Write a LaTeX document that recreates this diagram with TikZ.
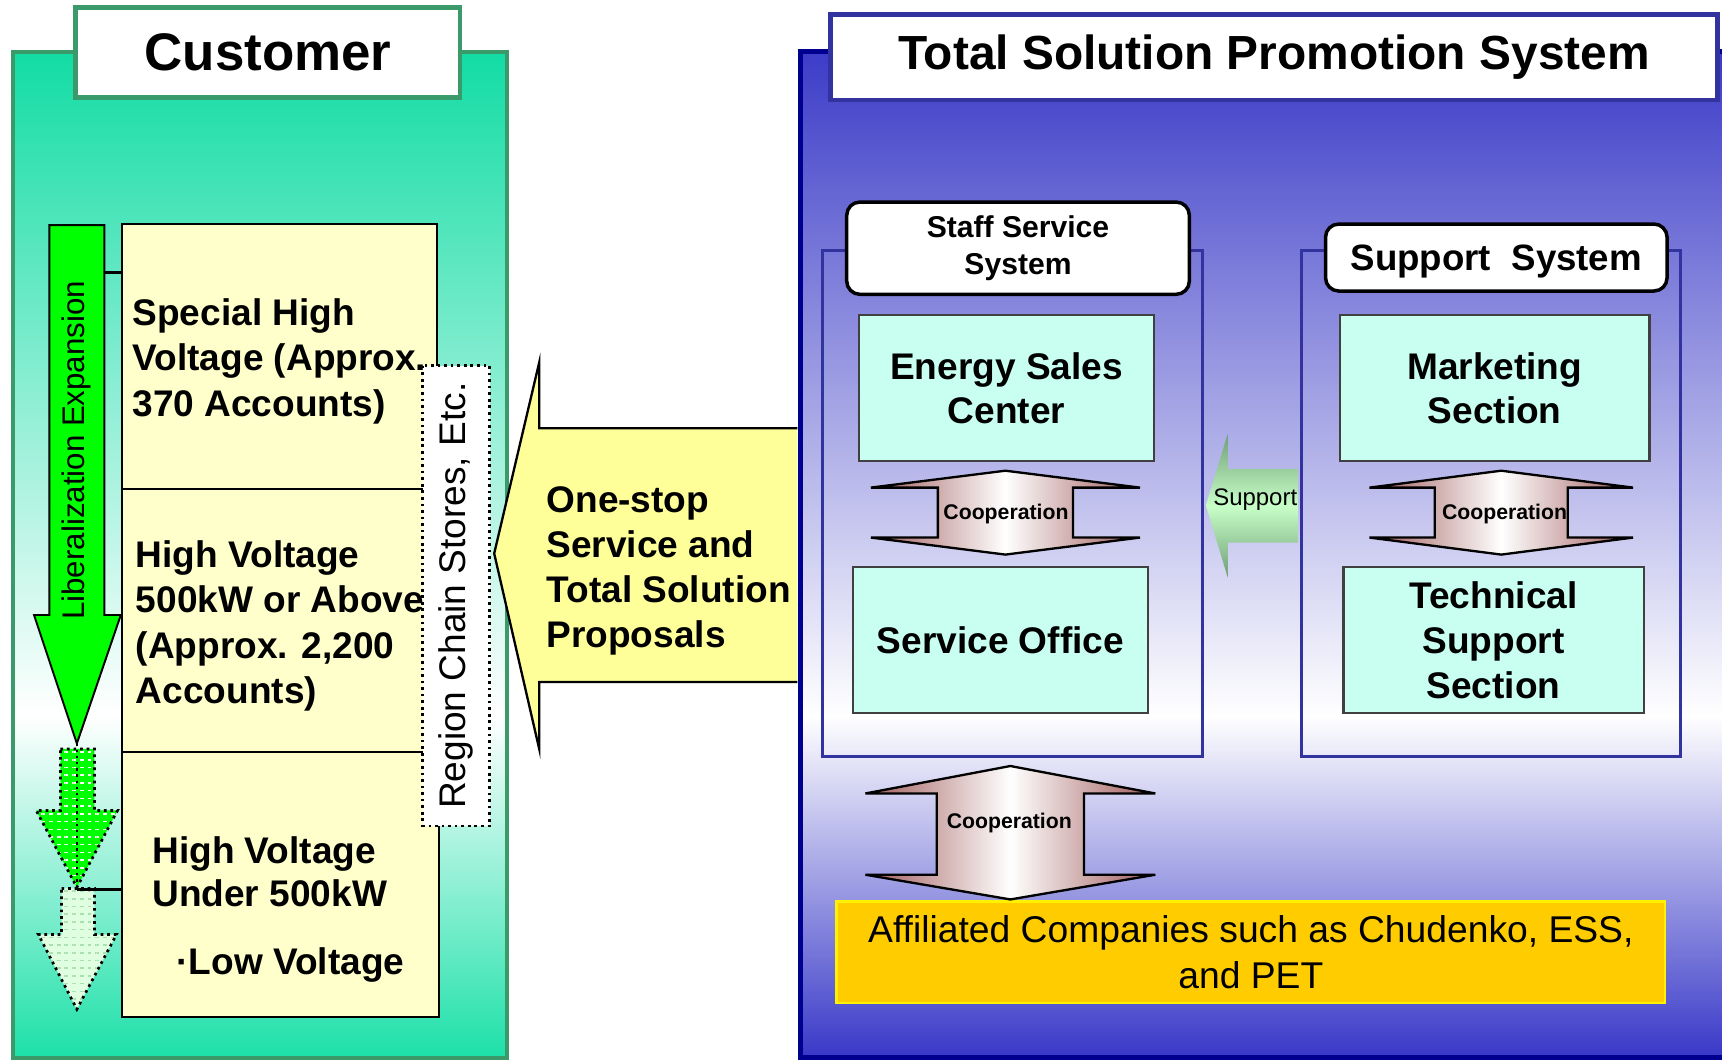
\documentclass[tikz,border=0pt]{standalone}
\usepackage{fontspec}
\setmainfont{Liberation Sans}
\usepackage{tikz}
\usetikzlibrary{calc,patterns.meta}
\definecolor{custgreen}{HTML}{3A9A6A}
\definecolor{custtop}{HTML}{12DCA4}
\definecolor{custbot}{HTML}{1CE0A8}
\definecolor{libgreen}{HTML}{00FF00}
\definecolor{paleline}{HTML}{A8E0B0}
\definecolor{palegreen}{HTML}{E0FFE0}
\definecolor{acctyellow}{HTML}{FFFFCC}
\definecolor{callyellow}{HTML}{FFFF99}
\definecolor{navy}{HTML}{000090}
\definecolor{bluetop}{HTML}{3C3CC8}
\definecolor{bluebot}{HTML}{3838C8}
\definecolor{groupblue}{HTML}{3333A0}
\definecolor{cyanbox}{HTML}{C8FFF0}
\definecolor{goldbox}{HTML}{FFCC00}
\definecolor{coopbrown}{HTML}{A05A5A}
\definecolor{supdark}{HTML}{6E9E76}
\definecolor{suplight}{HTML}{C8FFC8}
\pgfdeclareverticalshading{custshade}{100bp}{color(0bp)=(custbot); color(25bp)=(custbot); color(42bp)=(white); color(75bp)=(custtop); color(100bp)=(custtop)}
\pgfdeclareverticalshading{blueshade}{100bp}{color(0bp)=(bluebot); color(25bp)=(bluebot); color(42bp)=(white); color(75bp)=(bluetop); color(100bp)=(bluetop)}
\newcommand{\cooparrow}[7]{% x, tip top, head top, head bottom, tip bottom, head half, shaft half
\draw[coopshape] (#1,#2) -- ({#1+#6},#3) -- ({#1+#7},#3) -- ({#1+#7},#4) -- ({#1+#6},#4) -- (#1,#5)
    -- ({#1-#6},#4) -- ({#1-#7},#4) -- ({#1-#7},#3) -- ({#1-#6},#3) -- cycle;}
\tikzstyle{titlebox} = [
    draw,
    fill=white,
    line width=1.2pt,
    inner sep=0pt
    ]
\tikzstyle{acctbox} = [
    draw,
    fill=acctyellow,
    line width=0.6pt,
    minimum width=28.7mm,
    minimum height=24mm
    ]
\tikzstyle{acctext} = [
    anchor=west,
    align=left,
    inner sep=0pt,
    font=\fontsize{9.6}{11.7}\selectfont\bfseries
    ]
\tikzstyle{sectbox} = [
    draw=black!75,
    fill=cyanbox,
    line width=0.6pt,
    align=center,
    minimum height=13.3mm,
    font=\fontsize{9.6}{11.6}\selectfont\bfseries
    ]
\tikzstyle{grouplabel} = [
    draw,
    fill=white,
    line width=0.9pt,
    rounded corners=1.2mm,
    align=center
    ]
\tikzstyle{groupbox} = [
    draw=groupblue,
    line width=0.8pt,
    minimum width=34.6mm,
    minimum height=46.1mm
    ]
\tikzstyle{coopshape} = [
    draw,
    line width=0.6pt,
    left color=coopbrown,
    right color=coopbrown,
    middle color=white
    ]
\tikzstyle{cooptext} = [
    inner sep=0pt,
    font=\fontsize{5.5}{6.5}\selectfont\bfseries
    ]

\begin{document}
\begin{tikzpicture}[x=0.1mm,y=-0.1mm]
\useasboundingbox (0,0) rectangle (1568,966);
\clip (0,0) rectangle (1568,966);
% customer panel
\draw[custgreen, line width=1pt, shading=custshade] (12,47) rectangle (462,963);
\node[titlebox, draw=custgreen, minimum width=35mm, minimum height=8.2mm,
    font=\fontsize{13.7}{16}\selectfont\bfseries] (customer) at (244,48) {Customer};

% liberalization arrows
\draw[fill=libgreen, line width=0.5pt] (45,205) -- (95,205) -- (95,560) -- (110,560) -- (70,677)
    -- (31,560) -- (45,560) -- cycle;
\node[rotate=90, inner sep=0pt, font=\fontsize{8.1}{9}\selectfont] (liberal) at (70,410) {Liberalization Expansion};
\draw[densely dotted, line width=0.7pt, preaction={fill=libgreen},
    pattern={Lines[angle=0,distance=2pt,line width=0.4pt]}, pattern color=white]
    (55,682) -- (86,682) -- (86,738) -- (107,738) -- (70,808) -- (33,738) -- (55,738) -- cycle;
\draw[densely dotted, line width=0.6pt] (70,677) -- (70,806);
\draw[densely dotted, line width=0.7pt, preaction={fill=palegreen},
    pattern={Lines[angle=0,distance=2pt,line width=0.4pt]}, pattern color=paleline]
    (56,809) -- (86,809) -- (86,851) -- (106,851) -- (70,919) -- (35,851) -- (56,851) -- cycle;

% account classes
\node[acctbox, minimum height=24.1mm] (spbox) at (254.5,324.5) {};
\node[acctbox] (hvbox) at (254.5,565) {};
\node[acctbox, minimum width=28.9mm, minimum height=24.1mm] (lvbox) at (255.5,805.5) {};
\coordinate (libarm) at (95,248);
\coordinate (lvarm) at (70,810);
\draw[line width=0.6pt] (libarm) -- (libarm -| spbox.west);
\draw[line width=0.6pt] (lvarm) -- (lvarm -| lvbox.west);
\node[acctext] (sptext) at (120,329) {Special High\\Voltage (Approx.\\370 Accounts)};
\node[acctext] (hvtext) at (123,570) {High Voltage\\500kW or Above\\(Approx. 2,200\\Accounts)};
\node[acctext, font=\fontsize{9.6}{11.1}\selectfont\bfseries] (lvtext) at (138,794) {High Voltage\\Under 500kW};
\node[acctext] (lowtext) at (160,879) {·Low Voltage};
\node[draw, densely dotted, fill=white, line width=0.7pt, rotate=90, minimum width=41.9mm, minimum height=6.1mm,
    inner sep=0pt, font=\fontsize{9.6}{11}\selectfont] (region) at (415.5,542.5) {Region Chain Stores, Etc.};

% proposal callout
\draw[fill=callyellow, line width=0.6pt] (726,390) -- (491,390) -- (491,330) -- (450,504) -- (491,682)
    -- (491,621) -- (726,621);
\node[acctext] (onestop) at (497,520) {One-stop\\Service and\\Total Solution\\Proposals};

% promotion system panel
\draw[navy, line width=1.4pt, shading=blueshade] (729,47) rectangle (1600,963);
\node[titlebox, draw=groupblue, minimum width=80.8mm, minimum height=7.8mm,
    font=\fontsize{12.4}{14}\selectfont\bfseries] (tsps) at (1160,52) {Total Solution Promotion System};

\node[groupbox] (staffgrp) at (922,458.5) {};
\node[groupbox, minimum width=34.5mm] (suppgrp) at (1357.5,458.5) {};
\node[grouplabel, minimum width=31.2mm, minimum height=8.4mm,
    font=\fontsize{7.8}{9.7}\selectfont\bfseries] (stafflbl) at (927,226) {Staff Service\\System};
\node[grouplabel, minimum width=31.1mm, minimum height=6.1mm, text depth=0pt,
    font=\fontsize{9.5}{11}\selectfont\bfseries] (supplbl) at (1362.5,234.5) {Support\ \ System};

\node[sectbox, minimum width=26.9mm] (energy) at (916.5,353.5) {Energy Sales\\Center};
\node[sectbox, minimum width=28.2mm] (marketing) at (1361,353.5) {Marketing\\Section};
\node[sectbox, minimum width=26.85mm] (office) at (911,583) {Service Office};
\node[sectbox, minimum width=27.35mm] (technical) at (1360,583) {Technical\\Support\\Section};

\cooparrow{915.5}{428.6}{444}{489.5}{505}{122.5}{61.5}
\node[cooptext] (coopstaff) at (916,468) {Cooperation};
\cooparrow{1367}{428.6}{444}{489.5}{505}{120}{60.5}
\node[cooptext] (coopsupp) at (1370,468) {Cooperation};

\shade[top color=supdark, bottom color=supdark, middle color=suplight] (1182,427) -- (1118,427) -- (1118,395)
    -- (1098,460) -- (1118,526) -- (1118,494) -- (1182,494) -- cycle;
\node[inner sep=0pt, font=\fontsize{6.2}{7}\selectfont] (support) at (1143,455) {Support};

\node[draw=yellow, fill=goldbox, line width=0.6pt, minimum width=75.45mm, minimum height=9.2mm, align=center,
    font=\fontsize{9.65}{11.7}\selectfont] (affil) at (1139,867) {Affiliated Companies such as Chudenko, ESS,\\and PET};
\cooparrow{920}{697.5}{722.5}{796.5}{819}{132}{67}
\node[cooptext] (coopaffil) at (919,749) {Cooperation};
\end{tikzpicture}
\end{document}
